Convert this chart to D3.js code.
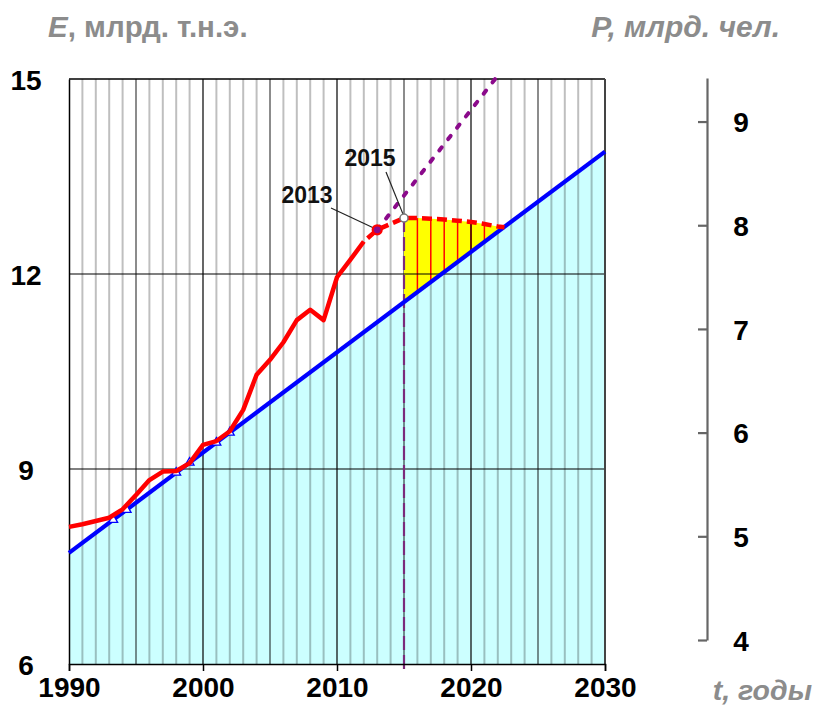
<!DOCTYPE html>
<html>
<head>
<meta charset="utf-8">
<script src="https://cdn.jsdelivr.net/npm/d3@7"></script>
<style>
  body { margin: 0; background: #fff; }
  svg { display: block; }
  text { font-family: "Liberation Sans", Arial, sans-serif; font-weight: bold; }
</style>
</head>
<body>
<svg id="chart" width="816" height="709"></svg>
<script>
// World primary energy consumption, billion toe (solid red line)
const years  = [1990, 1991, 1992, 1993, 1994, 1995, 1996, 1997, 1998, 1999, 2000, 2001,
                2002, 2003, 2004, 2005, 2006, 2007, 2008, 2009, 2010, 2011, 2012, 2013];
const energy = [8.11, 8.15, 8.20, 8.25, 8.38, 8.60, 8.83, 8.96, 8.97, 9.09, 9.37, 9.43,
                9.58, 9.91, 10.45, 10.68, 10.95, 11.29, 11.45, 11.29, 11.95, 12.22, 12.50, 12.68];

// Forecast of energy consumption after 2015 (dashed red)
const forecastYears  = [2015, 2016, 2017, 2018, 2019, 2020, 2021, 2022, 2022.5];
const forecastValues = [12.86, 12.86, 12.85, 12.84, 12.82, 12.80, 12.77, 12.73, 12.72];

// Extrapolated growth trend from 2013 (dotted purple)
const trendYears  = [2013, 2021.8];
const trendValues = [12.68, 15.0];

// Population, billion people (blue line, right axis)
const popYears  = [1990, 2030];
const popValues = [4.84, 8.71];

// Triangle markers placed on the population line
const markerYears = [1993.3, 1994.3, 1998, 1999, 2001, 2002];

// Axis ticks
const xTicks = [1990, 2000, 2010, 2020, 2030];
const eTicks = [6, 9, 12, 15];
const pTicks = [4, 5, 6, 7, 8, 9];

const svg = d3.select("#chart");

const x  = d3.scaleLinear().domain([1990, 2030]).range([69, 605]);
const yE = d3.scaleLinear().domain([6, 15]).range([664, 79]);
const yP = d3.scaleLinear().domain([4, 9.42]).range([640, 78]);

// population as a function of year, used for the area under the blue line
const pop = d3.scaleLinear().domain(popYears).range(popValues);
const bluePx = yr => yP(pop(yr));

const plotL = x(1990), plotR = x(2030), plotT = yE(15), plotB = yE(6);

// cyan area under population line
svg.append("path")
  .attr("d", d3.area().x(d => x(d)).y0(plotB).y1(d => bluePx(d))(popYears))
  .attr("fill", "#ccffff");

// vertical yearly grid
const gridYears = [];
for (let yr = 1991; yr < 2030; yr++) gridYears.push(yr);
svg.append("g").selectAll("line")
  .data(gridYears.filter(d => d % 10 !== 0))
  .join("line")
  .attr("x1", d => x(d)).attr("x2", d => x(d))
  .attr("y1", plotT).attr("y2", plotB)
  .attr("stroke", "#000")
  .attr("stroke-opacity", d => d % 5 === 0 ? 0.45 : 0.25)
  .attr("stroke-width", 2);

// yellow gap between forecast and population line
const fPts = forecastYears.map((d, i) => [x(d), yE(forecastValues[i])]);
const bPts = forecastYears.slice().reverse().map(d => [x(d), bluePx(d)]);
svg.append("path")
  .attr("d", "M" + fPts.concat(bPts).map(p => p.join(",")).join("L") + "Z")
  .attr("fill", "#ffff00");

// red hatching inside the yellow zone
svg.append("g").selectAll("line")
  .data(forecastYears.map((d, i) => ({ yr: d, v: forecastValues[i] })).filter(d => d.yr > 2015 && d.yr <= 2021))
  .join("line")
  .attr("x1", d => x(d.yr)).attr("x2", d => x(d.yr))
  .attr("y1", d => yE(d.v)).attr("y2", d => bluePx(d.yr))
  .attr("stroke", "#ff0000").attr("stroke-width", 1.5);

// decade lines and horizontal grid
svg.append("g").selectAll("line")
  .data(gridYears.filter(d => d % 10 === 0))
  .join("line")
  .attr("x1", d => x(d)).attr("x2", d => x(d))
  .attr("y1", plotT).attr("y2", plotB)
  .attr("stroke", "#000").attr("stroke-width", 1.2);
svg.append("g").selectAll("line")
  .data([9, 12])
  .join("line")
  .attr("x1", plotL).attr("x2", plotR)
  .attr("y1", d => yE(d)).attr("y2", d => yE(d))
  .attr("stroke", "#000").attr("stroke-width", 1.2);

// frame
svg.append("line").attr("x1", plotL).attr("x2", plotR).attr("y1", plotT).attr("y2", plotT)
  .attr("stroke", "#000").attr("stroke-width", 1.5);
svg.append("line").attr("x1", plotR).attr("x2", plotR).attr("y1", plotT).attr("y2", plotB)
  .attr("stroke", "#444").attr("stroke-width", 2);

// 2015 reference line
svg.append("line")
  .attr("x1", x(2015)).attr("x2", x(2015))
  .attr("y1", yE(forecastValues[0])).attr("y2", plotB + 7)
  .attr("stroke", "#7b2a7b").attr("stroke-width", 2.2)
  .attr("stroke-dasharray", "14,5");

// left axis
const axisE = svg.append("g").attr("transform", `translate(${plotL},0)`)
  .call(d3.axisLeft(yE).tickValues(eTicks).tickSize(0).tickFormat(d3.format("d")));
axisE.select(".domain").attr("stroke", "#000").attr("stroke-width", 1.5);
axisE.selectAll("text")
  .attr("x", 26 - plotL).attr("dy", "0.36em").attr("text-anchor", "middle")
  .attr("font-size", 28).attr("font-family", null).attr("fill", "#000");

// bottom axis
const axisX = svg.append("g").attr("transform", `translate(0,${plotB})`)
  .call(d3.axisBottom(x).tickValues(xTicks).tickSize(7).tickFormat(d3.format("d")));
axisX.select(".domain").attr("stroke", "#000").attr("stroke-width", 1.5);
axisX.selectAll(".tick line").attr("stroke", "#000").attr("stroke-width", 1.5);
axisX.selectAll("text")
  .attr("y", 33).attr("dy", 0)
  .attr("font-size", 28).attr("font-family", null).attr("fill", "#000");

// right axis (population)
const axisP = svg.append("g").attr("transform", "translate(707,0)")
  .call(d3.axisLeft(yP).tickValues(pTicks).tickSize(9).tickSizeOuter(0).tickFormat(d3.format("d")));
axisP.select(".domain").attr("stroke", "#666").attr("stroke-width", 2.2);
axisP.selectAll(".tick line").attr("stroke", "#666").attr("stroke-width", 2.2);
axisP.selectAll("text")
  .attr("x", 34).attr("dy", "0.36em").attr("text-anchor", "middle")
  .attr("font-size", 28).attr("font-family", null).attr("fill", "#000");

// population line
svg.append("path")
  .attr("d", d3.line().x(d => x(d)).y(d => bluePx(d))(popYears))
  .attr("fill", "none").attr("stroke", "#0000ff").attr("stroke-width", 4.2);

svg.append("g").selectAll("path")
  .data(markerYears)
  .join("path")
  .attr("transform", d => `translate(${x(d)},${bluePx(d)})`)
  .attr("d", d3.symbol(d3.symbolTriangle, 34))
  .attr("fill", "#fff").attr("stroke", "#0000ff").attr("stroke-width", 1.3);

// growth trend
svg.append("path")
  .attr("d", d3.line().x(d => x(d[0])).y(d => yE(d[1]))(trendYears.map((d, i) => [d, trendValues[i]])))
  .attr("fill", "none").attr("stroke", "#8b0a8b").attr("stroke-width", 4)
  .attr("stroke-dasharray", "4,10.4").attr("stroke-linecap", "round");

// actual energy consumption
const actual = years.map((d, i) => [d, energy[i]]);
const eLine = d3.line().x(d => x(d[0])).y(d => yE(d[1]));
svg.append("path")
  .attr("d", eLine(actual.filter(d => d[0] <= 2012)))
  .attr("fill", "none").attr("stroke", "#ff0000").attr("stroke-width", 4.5)
  .attr("stroke-linejoin", "round");

// forecast energy consumption
const fc = actual.filter(d => d[0] >= 2012).concat(forecastYears.map((d, i) => [d, forecastValues[i]]));
svg.append("path")
  .attr("d", eLine(fc))
  .attr("fill", "none").attr("stroke", "#ff0000").attr("stroke-width", 4.5)
  .attr("stroke-dasharray", "10,5").attr("stroke-dashoffset", 10);

// annotation leaders and labels
const p2013 = [x(2013), yE(energy[energy.length - 1])];
const p2015 = [x(2015), yE(forecastValues[0])];
svg.append("line").attr("x1", 331).attr("y1", 208).attr("x2", p2013[0] - 4).attr("y2", p2013[1] - 2)
  .attr("stroke", "#222").attr("stroke-width", 1.2);
svg.append("line").attr("x1", 386).attr("y1", 172).attr("x2", p2015[0] - 1).attr("y2", p2015[1] - 4)
  .attr("stroke", "#222").attr("stroke-width", 1.2);

svg.append("circle").attr("cx", p2013[0]).attr("cy", p2013[1]).attr("r", 4.5)
  .attr("fill", "#8b0a8b").attr("stroke", "#ff0000").attr("stroke-width", 2.2);
svg.append("circle").attr("cx", p2015[0]).attr("cy", p2015[1]).attr("r", 4)
  .attr("fill", "#fff").attr("stroke", "#777").attr("stroke-width", 1.5);

svg.append("text").attr("x", 307).attr("y", 203).attr("text-anchor", "middle")
  .attr("font-size", 23).attr("fill", "#111").text("2013");
svg.append("text").attr("x", 370).attr("y", 166).attr("text-anchor", "middle")
  .attr("font-size", 23).attr("fill", "#111").text("2015");

// axis titles
const grey = "#8c8c8c";
const tE = svg.append("text").attr("x", 48).attr("y", 37).attr("font-size", 29.5).attr("fill", grey);
tE.append("tspan").attr("font-style", "italic").text("E");
tE.append("tspan").text(", млрд. т.н.э.");
svg.append("text").attr("x", 780).attr("y", 37).attr("text-anchor", "end")
  .attr("font-size", 30).attr("font-style", "italic").attr("fill", grey).text("P, млрд. чел.");
svg.append("text").attr("x", 812).attr("y", 700).attr("text-anchor", "end")
  .attr("font-size", 28.5).attr("font-style", "italic").attr("fill", grey).text("t, годы");
</script>
</body>
</html>
